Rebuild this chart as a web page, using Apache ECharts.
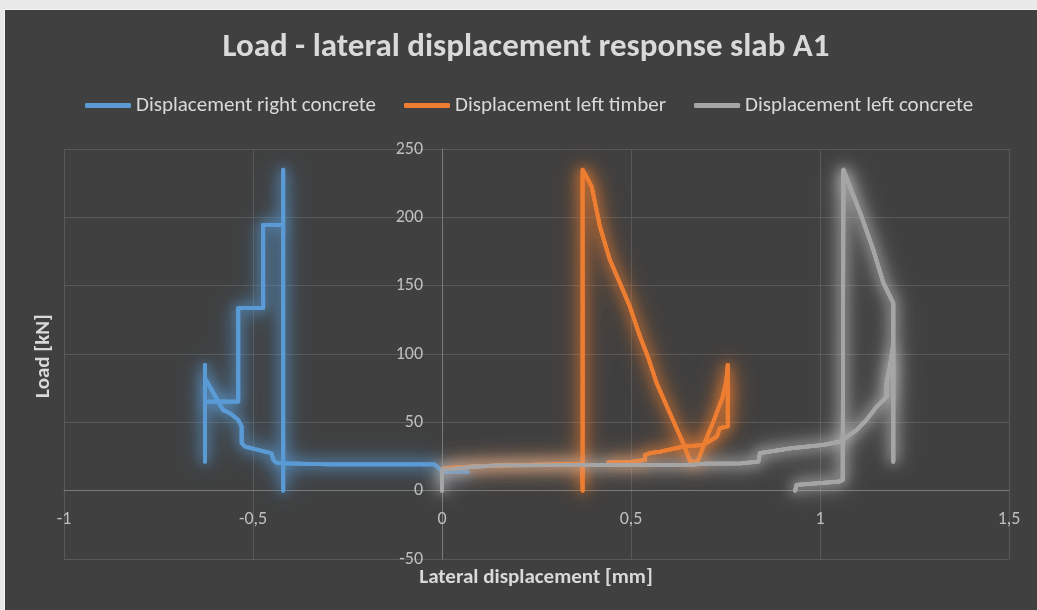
<!DOCTYPE html>
<html>
<head>
<meta charset="utf-8">
<script src="https://cdn.jsdelivr.net/npm/echarts@6/dist/echarts.min.js"></script>
<style>
  html, body { margin: 0; padding: 0; background: #e9e9e9; }
  #frame { position: absolute; left: 4px; top: 9px; width: 1033px; height: 601px; background: #f6f6f6; }
  #chart { position: absolute; left: 5px; top: 10px; width: 1032px; height: 600px; }
</style>
</head>
<body>
<div id="frame"></div>
<div id="chart"></div>
<script>
// Load - lateral displacement measurements for slab A1 (displacement in mm, load in kN)
const rightConcreteDisp = [0.068, 0.002, -0.02, -0.296, -0.3, -0.411, -0.438, -0.446, -0.451, -0.521, -0.530, -0.530, -0.539, -0.561, -0.579, -0.627, -0.627, -0.627, -0.627, -0.539, -0.539, -0.473, -0.473, -0.420, -0.420, -0.420];
const rightConcreteLoad = [13.5, 14, 19.2, 19.2, 20, 20, 20.5, 22.5, 27.4, 32.2, 34.7, 46.9, 51.8, 56.6, 59, 82.3, 92, 21.2, 65.2, 65.2, 133.5, 133.5, 194.5, 194.5, 234.8, 0];

const leftTimberDisp = [0.005, 0.1, 0.25, 0.37, 0.372, 0.372, 0.396, 0.418, 0.444, 0.471, 0.497, 0.524, 0.546, 0.568, 0.603, 0.638, 0.657, 0.676, 0.695, 0.72, 0.742, 0.752, 0.756, 0.756, 0.735, 0.727, 0.691, 0.638, 0.577, 0.55, 0.537, 0.537, 0.5, 0.44];
const leftTimberLoad = [16.5, 18, 19, 19.5, 0, 234.8, 222.5, 193, 169, 151.8, 134.7, 112.7, 96.9, 78.6, 56.7, 34.7, 21.2, 21.2, 35, 52, 68, 80, 92, 47, 45.7, 39.5, 33.5, 32.2, 28.6, 27.4, 26, 22.5, 21, 20.7];

const leftConcreteDisp = [0, 0, 0.03, 0.08, 0.15, 0.4, 0.66, 0.7, 0.79, 0.837, 0.841, 0.921, 1.009, 1.053, 1.097, 1.123, 1.15, 1.168, 1.176, 1.176, 1.185, 1.194, 1.194, 1.194, 1.168, 1.141, 1.11, 1.079, 1.062, 1.06, 1.049, 0.938, 0.934];
const leftConcreteLoad = [0, 15.5, 16, 17.5, 18.5, 18.8, 19, 19.8, 20, 21.2, 27.4, 31, 33.5, 35.9, 44.4, 51.8, 61.5, 66.4, 68.8, 78.6, 90.8, 108, 21.2, 137.2, 151.8, 176.2, 200.6, 222.5, 234.8, 7.8, 6.6, 4.2, 0];

const seriesNames = ['Displacement right concrete', 'Displacement left timber', 'Displacement left concrete'];
const seriesColors = ['#5B9BD5', '#ED7D31', '#A5A5A5'];
const seriesRgb = ['91,155,213', '237,125,49', '200,200,200'];

const xTicks = { min: -1, max: 1.5, interval: 0.5 };
const yTicks = { min: -50, max: 250, interval: 50 };

const FONT = 'Carlito, Calibri, Lato, sans-serif';

// Plot area (px inside the chart element)
const GRID = { left: 59, top: 139, width: 945, height: 410 };

function pairs(xs, ys) {
  return xs.map((x, i) => [x, ys[i]]);
}

const seriesData = [
  pairs(rightConcreteDisp, rightConcreteLoad),
  pairs(leftTimberDisp, leftTimberLoad),
  pairs(leftConcreteDisp, leftConcreteLoad)
];

// Axes cross at the origin: shift each axis from the plot edge to the zero of the other
const xZeroShift = GRID.height * (0 - yTicks.min) / (yTicks.max - yTicks.min);
const yZeroShift = GRID.width * (0 - xTicks.min) / (xTicks.max - xTicks.min);

const chart = echarts.init(document.getElementById('chart'), null, { renderer: 'canvas' });

const decimalComma = v => String(v).replace('.', ',');

// Solid curves
const curveSeries = seriesNames.map((name, i) => ({
  name,
  type: 'line',
  data: seriesData[i],
  showSymbol: false,
  symbol: 'none',
  color: seriesColors[i],
  z: 10 + i,
  lineStyle: {
    width: 3.8,
    color: seriesColors[i],
    cap: 'round',
    join: 'round',
    shadowColor: 'rgba(' + seriesRgb[i] + ',0.9)',
    shadowBlur: 12
  }
}));

// Soft glow layers beneath each curve (same name, so the legend toggles them together)
const glowBlurs = [26, 18];
const glowSeries = [];
glowBlurs.forEach((blur, k) => {
  seriesNames.forEach((name, i) => {
    glowSeries.push({
      name,
      type: 'line',
      data: seriesData[i],
      showSymbol: false,
      symbol: 'none',
      silent: true,
      color: seriesColors[i],
      z: 3 + i,
      lineStyle: {
        width: 3.8,
        color: seriesColors[i],
        cap: 'round',
        join: 'round',
        shadowColor: 'rgba(' + seriesRgb[i] + ',0.85)',
        shadowBlur: blur
      }
    });
  });
});

chart.setOption({
  backgroundColor: '#404040',
  animation: false,
  textStyle: { fontFamily: FONT },
  legend: {
    left: 75,
    top: 80,
    itemWidth: 46,
    itemHeight: 5,
    itemGap: 28,
    icon: 'roundRect',
    data: seriesNames,
    textStyle: { color: '#D9D9D9', fontSize: 21, fontFamily: FONT }
  },
  grid: Object.assign({ containLabel: false }, GRID),
  xAxis: {
    type: 'value',
    position: 'bottom',
    offset: -xZeroShift,
    min: xTicks.min, max: xTicks.max, interval: xTicks.interval,
    axisLine: { show: true, onZero: false, lineStyle: { color: '#7a7a7a', width: 1 } },
    axisTick: { show: false },
    axisLabel: { color: '#BFBFBF', fontSize: 18, margin: 20, fontFamily: FONT, formatter: decimalComma },
    splitLine: { show: true, lineStyle: { color: '#595959', width: 1 } }
  },
  yAxis: {
    type: 'value',
    position: 'left',
    offset: -yZeroShift,
    min: yTicks.min, max: yTicks.max, interval: yTicks.interval,
    axisLine: { show: true, onZero: false, lineStyle: { color: '#7a7a7a', width: 1 } },
    axisTick: { show: false },
    axisLabel: { color: '#BFBFBF', fontSize: 18, margin: 19, fontFamily: FONT, formatter: decimalComma },
    splitLine: { show: true, lineStyle: { color: '#595959', width: 1 } }
  },
  graphic: [
    {
      type: 'text', x: 521, y: 38,
      style: { text: 'Load - lateral displacement response slab A1', fill: '#D9D9D9', font: 'bold 33px ' + FONT, textAlign: 'center', textVerticalAlign: 'middle' }
    },
    {
      type: 'text', x: 531, y: 568,
      style: { text: 'Lateral displacement [mm]', fill: '#D9D9D9', font: 'bold 21px ' + FONT, textAlign: 'center', textVerticalAlign: 'middle' }
    },
    {
      type: 'text', x: 39, y: 346, rotation: Math.PI / 2,
      style: { text: 'Load [kN]', fill: '#D9D9D9', font: 'bold 21px ' + FONT, textAlign: 'center', textVerticalAlign: 'middle' }
    }
  ],
  series: curveSeries.concat(glowSeries)
});
</script>
</body>
</html>
